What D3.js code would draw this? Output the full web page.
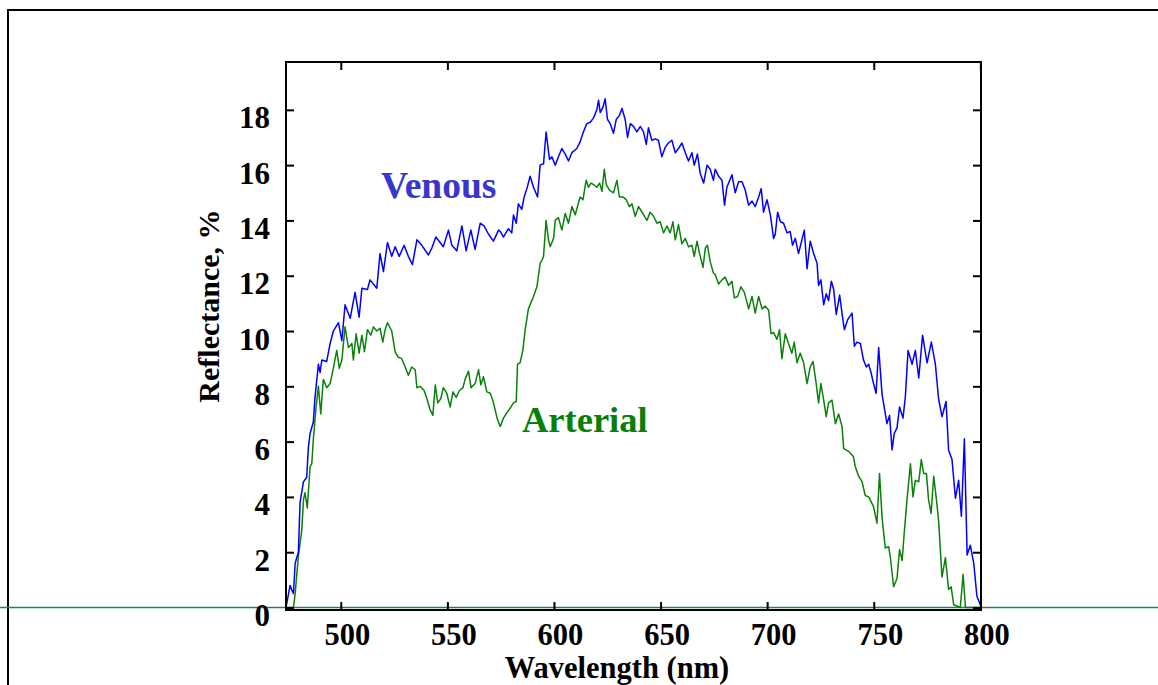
<!DOCTYPE html>
<html>
<head>
<meta charset="utf-8">
<script src="https://cdn.jsdelivr.net/npm/d3@7"></script>
<style>
  html, body { margin: 0; padding: 0; background: #fff; }
  svg { display: block; }
  text { font-family: "Liberation Serif", "Times New Roman", serif; font-weight: bold; }
</style>
</head>
<body>
<svg id="chart" width="1158" height="685"></svg>
<script>
// ---- data ----
const xTicks = [500, 550, 600, 650, 700, 750, 800];
const yTicks = [0, 2, 4, 6, 8, 10, 12, 14, 16, 18];

const venousNm = [474.3,476.2,477.8,478.6,480.1,480.9,482.5,484.0,484.8,485.6,487.1,487.9,489.5,490.3,491.1,493.4,495.0,496.5,498.9,500.5,502.0,504.4,506.7,508.6,509.9,512.5,513.7,516.9,518.4,520.0,521.9,523.9,525.5,527.4,529.7,531.7,533.6,535.7,538.0,541.1,542.7,544.6,546.6,548.1,550.5,552.1,554.4,556.8,558.8,561.0,563.0,565.4,567.2,569.3,571.6,574.0,574.8,576.3,578.6,580.2,581.0,582.3,583.3,584.9,586.0,587.3,588.8,590.4,592.3,593.5,595.1,596.3,597.9,599.0,600.6,602.1,603.7,605.3,606.8,608.4,610.7,612.3,613.8,615.4,617.0,618.5,620.1,620.9,621.7,623.0,624.0,625.1,626.4,627.9,629.2,630.7,631.9,633.4,634.5,635.8,637.3,638.9,640.5,642.0,643.3,644.3,645.9,647.5,649.0,650.6,652.2,653.7,655.3,656.9,658.4,660.0,661.6,663.1,664.7,665.8,667.3,668.6,670.2,671.8,673.3,674.8,675.6,677.2,678.8,680.0,681.1,683.5,685.0,686.6,688.2,689.7,691.3,692.9,694.4,696.0,697.2,698.3,699.9,701.5,703.0,703.8,704.9,706.2,707.7,709.3,710.8,711.9,713.2,714.7,716.3,717.4,718.7,720.2,721.8,723.4,724.1,725.2,726.5,727.7,728.8,730.1,731.2,732.4,734.0,735.1,736.2,737.7,739.8,740.9,742.1,743.7,745.2,746.5,747.6,748.7,749.9,751.1,752.3,753.9,756.2,757.4,758.6,759.6,760.9,762.1,763.7,764.8,766.1,768.0,769.5,771.1,772.9,775.0,777.0,778.9,780.4,782.0,783.9,785.1,786.7,788.3,789.8,791.1,792.5,793.8,795.3,796.9,798.4,800.0];
const venousR = [0,0.8,0.5,1.6,2.0,3.8,4.55,4.7,5.8,6.3,6.7,7.6,8.8,8.5,8.95,8.9,9.55,10.0,10.3,9.65,10.95,10.46,11.4,10.5,11.55,11.5,11.85,11.55,12.8,12.15,13.2,12.7,13.05,12.7,13.1,12.7,12.4,13.3,13.1,12.75,13.0,13.4,13.2,13.05,13.65,13.1,12.9,13.8,12.9,13.65,12.95,13.9,13.8,13.5,13.25,13.65,13.6,13.4,13.7,13.55,14.2,13.9,14.6,14.4,14.85,15.15,15.6,15.2,14.85,16.0,16.05,17.2,16.2,16.3,16.0,16.3,16.6,16.4,16.15,16.45,16.6,16.85,17.2,17.5,17.55,17.7,18.0,18.35,17.9,18.1,18.4,17.65,17.5,17.15,17.65,17.8,18.05,17.65,17.0,17.5,17.4,17.2,17.4,17.2,16.75,17.35,16.9,16.95,16.9,16.3,16.65,16.8,16.9,16.45,16.6,16.8,16.45,16.15,16.45,16.0,16.4,15.7,15.35,16.0,15.85,15.45,15.85,15.6,15.45,14.55,15.2,15.65,15.0,15.4,15.4,15.1,14.55,14.7,14.5,14.85,15.15,14.3,14.75,14.2,13.35,13.5,14.3,13.95,13.9,13.55,13.6,13.1,13.35,12.8,13.3,13.65,12.25,13.25,12.8,12.45,11.65,11.85,10.95,11.35,11.1,11.8,11.5,10.6,11.3,10.65,10.05,10.4,10.65,9.45,9.6,9.55,8.95,8.7,8.8,8.5,8.1,7.75,9.4,7.7,6.65,6.95,5.7,6.3,6.5,7.25,6.85,7.6,9.3,8.8,9.3,8.3,9.85,8.85,9.6,8.8,7.55,6.9,7.45,5.7,5.35,3.95,4.6,3.3,6.1,1.9,2.25,1.6,0.4,0.1];

const arterialNm = [474.3,477.8,478.6,480.1,481.7,482.5,483.2,484.3,485.6,486.4,487.1,488.4,489.5,490.6,491.8,493.4,495.0,496.5,498.1,499.3,500.5,502.0,503.6,505.2,505.9,507.2,508.6,509.9,511.1,512.5,514.1,515.3,516.9,518.4,519.7,520.8,521.9,523.9,525.5,527.0,528.6,530.2,531.7,533.3,534.9,535.7,537.2,539.1,540.4,541.9,543.2,544.3,545.5,546.9,548.1,549.7,551.3,552.6,554.1,555.7,557.3,558.3,559.9,561.1,563.0,564.6,565.7,566.9,568.5,570.1,571.3,572.4,573.5,574.8,576.3,577.9,579.4,581.0,582.3,582.9,584.1,585.4,586.5,588.0,590.4,592.0,593.5,594.3,595.1,596.3,597.4,598.2,599.8,600.6,602.1,603.7,605.3,606.8,608.4,610.0,611.0,612.3,613.6,615.1,616.2,617.3,618.5,620.1,621.4,622.5,623.6,624.5,626.0,627.9,629.5,630.7,632.3,633.9,635.4,636.6,638.1,639.7,641.7,643.6,645.1,646.7,648.3,649.8,651.4,653.0,654.5,655.8,656.9,658.4,660.0,661.6,663.1,664.7,665.8,667.1,668.3,669.9,671.0,672.0,673.3,674.8,675.6,677.2,678.8,680.3,681.9,683.5,684.6,686.1,687.7,689.3,691.3,692.9,694.4,696.0,697.6,699.1,700.7,701.8,703.0,704.6,705.8,706.9,708.5,710.0,711.6,712.7,714.0,715.5,717.1,718.7,720.2,721.5,723.0,724.1,725.2,726.5,727.7,728.8,730.4,732.0,733.5,735.1,735.9,738.2,740.5,741.3,742.9,744.5,746.0,747.6,749.9,751.5,752.7,753.9,755.4,757.0,757.8,759.3,760.9,762.1,763.3,764.3,765.6,767.2,768.4,769.5,771.1,772.3,773.4,774.7,775.7,776.9,778.1,779.4,780.4,782.0,783.6,785.1,786.3,787.5,790.6,791.9,793.0,800.0];
const arterialR = [0,0,0.5,1.85,2.8,3.9,4.15,3.6,5.1,5.2,6.05,7.25,8.0,7.0,8.25,7.95,8.1,8.65,9.3,8.65,8.95,10.15,9.4,9.55,8.95,9.9,9.2,9.85,9.25,10.05,9.85,10.15,10.0,10.1,9.6,10.05,10.3,10.0,9.25,9.05,9.0,8.7,8.4,8.7,8.6,7.95,8.0,7.85,7.55,7.15,6.95,8.05,7.4,7.55,7.95,7.75,7.25,7.8,7.6,7.85,7.95,8.25,8.55,7.95,8.1,8.6,8.05,8.35,7.8,7.75,7.5,7.15,6.8,6.55,6.85,7.05,7.2,7.4,7.45,8.8,8.85,9.3,10.05,10.8,11.25,11.6,12.45,12.55,12.7,14.0,13.3,13.05,13.35,14.0,14.1,13.65,14.25,13.9,14.5,14.2,14.5,14.85,14.75,15.45,15.2,15.35,15.3,15.2,15.35,15.05,15.85,15.3,15.1,15.0,15.45,14.85,14.85,14.75,14.5,14.6,14.15,14.5,14.25,14.0,14.3,14.15,13.9,13.95,13.55,13.8,13.55,13.95,13.3,13.85,13.15,13.35,13.05,13.1,12.7,13.25,12.8,12.3,13.0,13.1,12.5,12.1,12.05,11.7,11.85,11.95,11.65,11.8,11.2,11.25,11.6,11.4,10.8,11.25,10.65,11.25,10.8,10.9,10.75,9.9,9.95,9.7,10.05,9.0,9.9,9.55,9.2,9.6,8.85,9.2,8.85,8.1,8.7,8.9,8.1,7.4,8.1,7.5,6.9,7.4,7.5,6.65,7.0,6.55,5.75,5.65,5.45,5.1,4.75,4.55,4.05,4.0,3.65,3.05,4.85,3.25,2.15,2.2,1.8,0.75,1.05,2.1,1.7,2.7,3.9,5.2,4.0,4.6,4.55,5.35,4.85,4.85,3.9,3.4,4.75,3.9,3.15,1.1,1.8,0.65,0.75,0.1,0,1.2,0,0];

// ---- drawing ----
const svg = d3.select("#chart");
const W = 1158, H = 685;
const pL = 286, pR = 981, pT = 62, pB = 610;

const x = d3.scaleLinear().domain([474.3, 800.3]).range([pL, pR]);
const y = d3.scaleLinear().domain([-0.09, 19.73]).range([pB, pT]);

svg.append("rect").attr("width", W).attr("height", H).attr("fill", "#fff");

// outer frame (left + top)
svg.append("line").attr("x1", 8).attr("x2", 8).attr("y1", 9).attr("y2", H)
  .attr("stroke", "#000").attr("stroke-width", 2);
svg.append("line").attr("x1", 7).attr("x2", W).attr("y1", 10).attr("y2", 10)
  .attr("stroke", "#000").attr("stroke-width", 2);

// teal zero line across the page
svg.append("line").attr("x1", 0).attr("x2", W).attr("y1", y(0)).attr("y2", y(0))
  .attr("stroke", "#2a7a70").attr("stroke-width", 1.5);

const line = d3.line().x(d => x(d[0])).y(d => y(d[1]));
const nV = Math.min(venousNm.length, venousR.length);
const nA = Math.min(arterialNm.length, arterialR.length);
const venous = venousNm.slice(0, nV).map((v, i) => [v, venousR[i]]);
const arterial = arterialNm.slice(0, nA).map((v, i) => [v, arterialR[i]]);

svg.append("path").datum(arterial).attr("d", line)
  .attr("fill", "none").attr("stroke", "#0b800b").attr("stroke-width", 1.5)
  .attr("stroke-linejoin", "round");
svg.append("path").datum(venous).attr("d", line)
  .attr("fill", "none").attr("stroke", "#0000ff").attr("stroke-width", 1.5)
  .attr("stroke-linejoin", "round");

// axes (inward ticks on all four sides)
const tickLen = 8;
const gB = svg.append("g").attr("transform", `translate(0,${pB})`)
  .call(d3.axisBottom(x).tickValues(xTicks).tickSize(-tickLen).tickFormat(d3.format("d")));
const gT = svg.append("g").attr("transform", `translate(0,${pT})`)
  .call(d3.axisTop(x).tickValues(xTicks).tickSize(-tickLen).tickFormat(""));
const gL = svg.append("g").attr("transform", `translate(${pL},0)`)
  .call(d3.axisLeft(y).tickValues(yTicks).tickSize(-tickLen).tickFormat(d3.format("d")));
const gR = svg.append("g").attr("transform", `translate(${pR},0)`)
  .call(d3.axisRight(y).tickValues(yTicks).tickSize(-tickLen).tickFormat(""));

[gB, gT, gL, gR].forEach(g => {
  g.select(".domain").remove();
  g.selectAll(".tick line").attr("stroke", "#000").attr("stroke-width", 2);
});

gB.selectAll(".tick text")
  .attr("y", 35).attr("dy", null).attr("dx", 6)
  .attr("fill", "#000").style("font-size", "30.5px")
  .style("font-family", '"Liberation Serif", serif').style("font-weight", "bold");
gL.selectAll(".tick text")
  .attr("x", -16).attr("dy", null).attr("y", 18)
  .attr("fill", "#000").style("font-size", "31px")
  .style("font-family", '"Liberation Serif", serif').style("font-weight", "bold");

// plot frame
svg.append("rect").attr("x", pL).attr("y", pT)
  .attr("width", pR - pL).attr("height", pB - pT)
  .attr("fill", "none").attr("stroke", "#000").attr("stroke-width", 2);

// axis titles
svg.append("text").attr("x", 617).attr("y", 678).attr("text-anchor", "middle")
  .style("font-size", "30.5px").attr("fill", "#000").text("Wavelength (nm)");
svg.append("text").attr("transform", "translate(219,306) rotate(-90)")
  .attr("text-anchor", "middle").style("font-size", "30px").attr("fill", "#000")
  .text("Reflectance, %");

// series labels
svg.append("text").attr("x", 381).attr("y", 198).style("font-size", "37.5px")
  .attr("fill", "#3737cc").text("Venous");
svg.append("text").attr("x", 522).attr("y", 432).style("font-size", "36.5px")
  .attr("fill", "#088008").text("Arterial");
</script>
</body>
</html>
